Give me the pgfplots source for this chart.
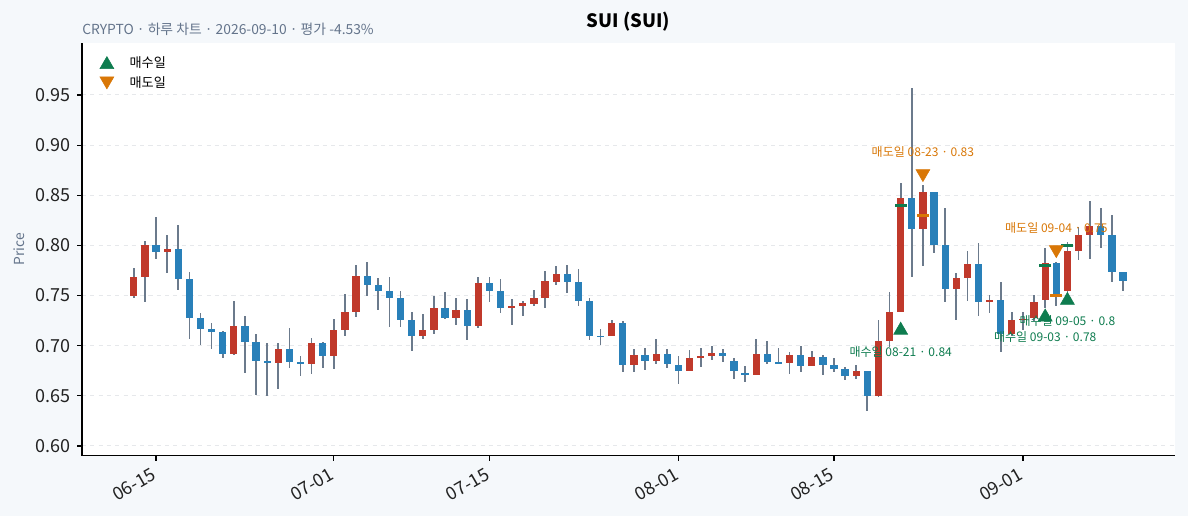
\documentclass[border=0pt]{standalone}
\usepackage{pgfplots}
\usepackage{pgfplotstable}
\pgfplotsset{compat=1.18}
\usepackage{fontspec}
\setmainfont{Noto Sans CJK KR}

\definecolor{bg}{HTML}{F5F8FB}
\definecolor{upred}{HTML}{C0392B}
\definecolor{downblue}{HTML}{2980B9}
\definecolor{wick}{HTML}{6B7A8C}
\definecolor{buygreen}{HTML}{0E7C4F}
\definecolor{sellorange}{HTML}{D97706}
\definecolor{subgray}{HTML}{64748B}
\definecolor{gridgray}{HTML}{E6E8EB}
\definecolor{ticktext}{HTML}{222222}

\pgfdeclareplotmark{blank}{}

% day 0 = 06-13
\pgfplotstableread{
d o h l c
0 0.750 0.777 0.748 0.768
1 0.768 0.804 0.744 0.800
3 0.793 0.810 0.772 0.796
9 0.692 0.745 0.691 0.720
13 0.683 0.703 0.657 0.697
16 0.682 0.708 0.672 0.703
18 0.690 0.727 0.677 0.716
19 0.716 0.752 0.710 0.734
20 0.734 0.780 0.729 0.769
26 0.710 0.732 0.707 0.716
27 0.716 0.750 0.712 0.738
29 0.728 0.748 0.721 0.736
31 0.720 0.768 0.718 0.762
34 0.738 0.747 0.721 0.740
35 0.740 0.745 0.730 0.743
36 0.742 0.756 0.740 0.748
37 0.748 0.774 0.738 0.764
38 0.764 0.779 0.761 0.771
43 0.710 0.726 0.710 0.723
45 0.681 0.697 0.674 0.691
47 0.685 0.707 0.682 0.692
50 0.675 0.696 0.675 0.688
51 0.688 0.698 0.679 0.690
52 0.690 0.700 0.686 0.693
56 0.671 0.707 0.671 0.692
59 0.683 0.694 0.672 0.691
61 0.680 0.695 0.680 0.689
65 0.670 0.681 0.667 0.675
67 0.650 0.726 0.649 0.705
68 0.705 0.754 0.699 0.734
69 0.734 0.862 0.734 0.847
71 0.816 0.860 0.779 0.853
74 0.757 0.772 0.726 0.767
75 0.767 0.794 0.745 0.781
77 0.744 0.751 0.733 0.746
79 0.712 0.734 0.710 0.726
80 0.726 0.734 0.716 0.727
81 0.728 0.751 0.725 0.744
82 0.746 0.797 0.738 0.782
84 0.755 0.803 0.754 0.794
85 0.794 0.818 0.785 0.810
86 0.810 0.844 0.786 0.819
}\upcandles

\pgfplotstableread{
d o h l c
2 0.800 0.828 0.786 0.793
4 0.796 0.820 0.756 0.766
5 0.766 0.773 0.707 0.728
6 0.728 0.733 0.701 0.717
7 0.717 0.723 0.697 0.714
8 0.714 0.715 0.688 0.692
10 0.720 0.730 0.673 0.704
11 0.704 0.712 0.651 0.685
12 0.685 0.703 0.650 0.683
14 0.697 0.718 0.678 0.684
15 0.684 0.690 0.670 0.682
17 0.703 0.704 0.678 0.690
21 0.769 0.783 0.750 0.761
22 0.761 0.767 0.736 0.755
23 0.755 0.768 0.719 0.748
24 0.748 0.755 0.719 0.726
25 0.726 0.734 0.695 0.710
28 0.738 0.754 0.727 0.728
30 0.736 0.747 0.706 0.720
32 0.762 0.768 0.744 0.755
33 0.755 0.766 0.733 0.738
39 0.771 0.780 0.753 0.764
40 0.764 0.776 0.740 0.745
41 0.745 0.748 0.706 0.710
42 0.710 0.717 0.701 0.709
44 0.723 0.725 0.674 0.681
46 0.691 0.698 0.676 0.685
48 0.692 0.697 0.678 0.682
49 0.681 0.690 0.662 0.675
53 0.693 0.697 0.684 0.690
54 0.685 0.688 0.667 0.675
55 0.673 0.680 0.664 0.671
57 0.692 0.705 0.682 0.684
58 0.684 0.698 0.682 0.682
60 0.691 0.700 0.674 0.680
62 0.689 0.691 0.671 0.681
63 0.681 0.688 0.674 0.677
64 0.677 0.679 0.666 0.670
66 0.675 0.675 0.635 0.650
70 0.847 0.957 0.768 0.816
72 0.853 0.853 0.792 0.800
73 0.800 0.837 0.744 0.757
76 0.781 0.802 0.730 0.744
78 0.746 0.764 0.694 0.712
83 0.782 0.783 0.740 0.752
87 0.819 0.837 0.797 0.810
88 0.810 0.830 0.763 0.773
89 0.773 0.773 0.755 0.764
}\downcandles

% trade price, marker position
\pgfplotstableread{
d p m
69 0.840 0.7174
82 0.780 0.7306
84 0.800 0.7472
}\buys
\pgfplotstableread{
d p m
71 0.830 0.8696
83 0.750 0.7938
}\sells

\begin{document}
\begin{tikzpicture}
\fill[bg] (-0.82in,-0.603in) rectangle (11.06in,4.557in);
\begin{axis}[
    at={(0,0)}, anchor=south west, scale only axis,
    width=10.93in, height=4.127in,
    xmin=-4.66, xmax=93.68, ymin=0.5903, ymax=1.0018,
    axis x line*=bottom, axis y line*=left,
    axis line style={black, line width=0.8pt},
    axis background/.style={fill=white},
    xtick={2,18,32,49,63,80},
    xticklabels={06-15,07-01,07-15,08-01,08-15,09-01},
    ytick={0.60,0.65,0.70,0.75,0.80,0.85,0.90,0.95},
    /pgf/number format/fixed, /pgf/number format/fixed zerofill,
    /pgf/number format/precision=2,
    /pgf/number format/assume math mode=true,
    tick label style={font=\fontsize{13}{15}\selectfont, text=ticktext},
    yticklabel style={xshift=-1.2pt},
    xticklabel style={rotate=30, anchor=north east, xshift=-2pt, yshift=1.5pt},
    tick align=outside, major tick length=3.6pt,
    tick style={black, line width=0.8pt},
    ymajorgrids, major grid style={dashed, gridgray, line width=0.7pt},
    ylabel={Price},
    every axis y label/.style={at={(axis description cs:-0.0576,0.5)}, rotate=90, anchor=center, font=\fontsize{10}{12}\selectfont, text=subgray},
    legend style={draw=none, fill=none, at={(axis description cs:0,1)}, anchor=north west,
        xshift=8.9pt, yshift=-5.3pt, font=\fontsize{9.5}{11}\selectfont, row sep=1.3pt},
    legend cell align=left,
    legend image code/.code={\draw[#1] plot coordinates {(0cm,0cm)}; \path (-0.2cm,0cm) (0.5cm,0cm);},
    clip=false,
]
% wicks
\addplot[forget plot, only marks, mark=blank,
    error bars/.cd, y dir=both, y explicit, error mark=none,
    error bar style={line width=1.25pt, wick}]
    table[x=d, y expr={(\thisrow{h}+\thisrow{l})/2}, y error expr={(\thisrow{h}-\thisrow{l})/2}] {\upcandles};
\addplot[forget plot, only marks, mark=blank,
    error bars/.cd, y dir=both, y explicit, error mark=none,
    error bar style={line width=1.25pt, wick}]
    table[x=d, y expr={(\thisrow{h}+\thisrow{l})/2}, y error expr={(\thisrow{h}-\thisrow{l})/2}] {\downcandles};
% bodies
\addplot[forget plot, only marks, mark=blank,
    error bars/.cd, y dir=both, y explicit, error mark=none,
    error bar style={line width=5.25pt, upred}]
    table[x=d, y expr={(\thisrow{o}+\thisrow{c})/2}, y error expr={(\thisrow{c}-\thisrow{o})/2}] {\upcandles};
\addplot[forget plot, only marks, mark=blank,
    error bars/.cd, y dir=both, y explicit, error mark=none,
    error bar style={line width=5.25pt, downblue}]
    table[x=d, y expr={(\thisrow{o}+\thisrow{c})/2}, y error expr={(\thisrow{o}-\thisrow{c})/2}] {\downcandles};
% trade price dashes
\addplot[forget plot, only marks, mark=-, mark size=4.3pt, buygreen, mark options={line width=2.2pt}]
    table[x=d, y=p] {\buys};
\addplot[forget plot, only marks, mark=-, mark size=4.3pt, sellorange, mark options={line width=2.2pt}]
    table[x=d, y=p] {\sells};
% signal triangles
\addplot[only marks, mark=triangle*, mark size=5.8pt, buygreen, mark options={yshift=-1.45pt}]
    table[x=d, y=m] {\buys};
\addlegendentry{매수일}
\addplot[only marks, mark=triangle*, mark size=5.8pt, sellorange, mark options={rotate=180, yshift=-1.45pt}]
    table[x=d, y=m] {\sells};
\addlegendentry{매도일}
% labels
\node[font=\fontsize{8.7}{10}\selectfont, text=sellorange] at (axis cs:71,0.893) {매도일 08-23 · 0.83};
\node[font=\fontsize{8.7}{10}\selectfont, text=buygreen] at (axis cs:69,0.6937) {매수일 08-21 · 0.84};
\node[font=\fontsize{8.7}{10}\selectfont, text=sellorange] at (axis cs:83,0.8174) {매도일 09-04 · 0.75};
\node[font=\fontsize{8.7}{10}\selectfont, text=buygreen] at (axis cs:82,0.7087) {매수일 09-03 · 0.78};
\node[font=\fontsize{8.7}{10}\selectfont, text=buygreen] at (axis cs:84,0.7247) {매수일 09-05 · 0.8};
\end{axis}
\node[anchor=base, font=\fontsize{13.3}{16}\selectfont\bfseries] at (5.465in,4.277in) {SUI (SUI)};
\node[anchor=base west, inner sep=0pt, font=\fontsize{10}{12}\selectfont, text=subgray] at (0,4.207in) {CRYPTO · 하루 차트 · 2026-09-10 · 평가 -4.53\%};
\pgfresetboundingbox
\path (-0.82in,-0.603in) rectangle (11.06in,4.557in);
\end{tikzpicture}
\end{document}
